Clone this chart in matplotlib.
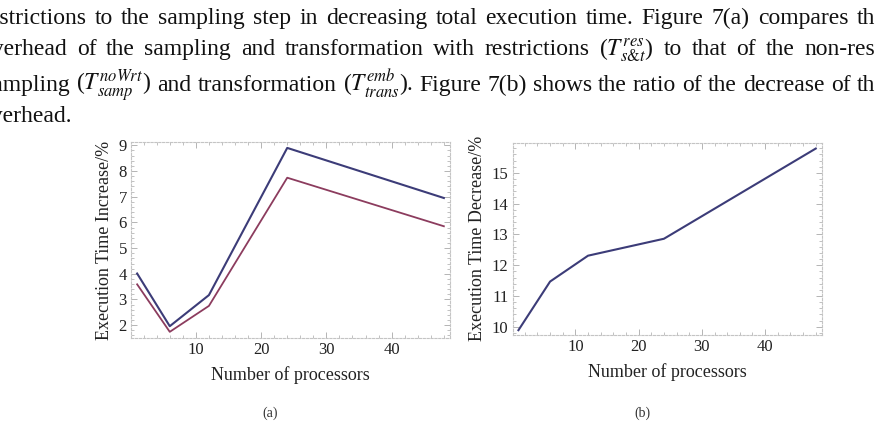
import matplotlib
matplotlib.use('Agg')
import matplotlib.pyplot as plt
from matplotlib.ticker import MultipleLocator

# data
procs = [1, 6, 12, 24, 48]
increase_blue = [4.01, 1.96, 3.17, 8.90, 6.95]
increase_red = [3.59, 1.74, 2.75, 7.74, 5.85]
decrease = [9.89, 11.47, 12.31, 12.86, 15.79]

label_x = 'Number of processors'
label_ya = 'Execution Time Increase/%'
label_yb = 'Execution Time Decrease/%'

para = [
    'restrictions to the sampling step in decreasing total execution time. Figure 7(a) compares the',
    r'overhead of the sampling and transformation with restrictions ($T^{res}_{s&t}$) to that of the non-restricted',
    r'sampling ($T^{noWrt}_{samp}$) and transformation ($T^{emb}_{trans}$). Figure 7(b) shows the ratio of the decrease of the',
    'overhead.',
]
# hidden part at the page's left edge, and hidden tail at the right edge
cut_left = ['re', 'ov', 'sa', 'ov']
cut_right = ['e', 'tricted', 'e', None]
shift_left = [0, 4, 3, 3]
baselines = [24, 55, 91, 122]

plt.rcParams['font.family'] = ['Liberation Serif', 'DejaVu Serif']
plt.rcParams['mathtext.fontset'] = 'stix'

W, H = 875, 428
fig = plt.figure(figsize=(W / 100, H / 100), dpi=100)
fig.patch.set_facecolor('white')
renderer = fig.canvas.get_renderer()
fs_text = 17


def width(s):
    t = fig.text(0, 0, s, fontsize=fs_text)
    w = t.get_window_extent(renderer).width
    t.remove()
    return w


# justified paragraph above the figure
for line, pre, post, sh, yb in zip(para, cut_left, cut_right, shift_left, baselines):
    words = line.split(' ')
    ws = [width(w) for w in words]
    x0 = -width(pre) + sh
    if post is None:
        gap = width('a a') - width('aa')
    else:
        x1 = W + width(post)
        gap = (x1 - x0 - sum(ws)) / (len(words) - 1)
    x = x0
    for w, wd in zip(words, ws):
        fig.text(x / W, 1 - yb / H, w, fontsize=fs_text,
                 ha='left', va='baseline', color='#111111')
        x += wd + gap

frame_col = '#c4c4c4'


def style(ax):
    for s in ax.spines.values():
        s.set_color(frame_col)
        s.set_linewidth(0.8)
        s.set_linestyle((0, (2, 1.5)))
    ax.tick_params(which='both', direction='in', top=True, right=True,
                   color='#a8a8a8', labelsize=12, labelcolor='#222222', pad=3)
    ax.tick_params(which='major', length=4, width=0.6)
    ax.tick_params(which='minor', length=2, width=0.5)
    ax.xaxis.set_major_locator(MultipleLocator(10))
    ax.xaxis.set_minor_locator(MultipleLocator(2))
    ax.set_xlim(0.06, 48.94)
    ax.set_xlabel(label_x, fontsize=13, color='#222222', labelpad=6)


# panel (a)
ax1 = fig.add_axes([131 / W, 1 - 338 / H, (450 - 131) / W, (338 - 142) / H])
ax1.plot(procs, increase_blue, color='#3c3c78', lw=1.5)
ax1.plot(procs, increase_red, color='#8c3c5e', lw=1.3)
style(ax1)
ax1.set_ylim(1.5, 9.13)
ax1.yaxis.set_major_locator(MultipleLocator(1))
ax1.yaxis.set_minor_locator(MultipleLocator(0.2))
ax1.set_ylabel(label_ya, fontsize=13, color='#222222', labelpad=4)

# panel (b)
ax2 = fig.add_axes([512.5 / W, 1 - 334.5 / H, (821.7 - 512.5) / W, (334.5 - 143) / H])
ax2.plot(procs, decrease, color='#3c3c78', lw=1.5)
style(ax2)
ax2.set_ylim(9.75, 15.97)
ax2.yaxis.set_major_locator(MultipleLocator(1))
ax2.yaxis.set_minor_locator(MultipleLocator(0.2))
ax2.set_ylabel(label_yb, fontsize=13, color='#222222', labelpad=4)

fig.text(270 / W, 1 - 413 / H, '(a)', fontsize=10, ha='center', va='center', color='#333333')
fig.text(642 / W, 1 - 413 / H, '(b)', fontsize=10, ha='center', va='center', color='#333333')

fig.savefig('out.png', dpi=100)
